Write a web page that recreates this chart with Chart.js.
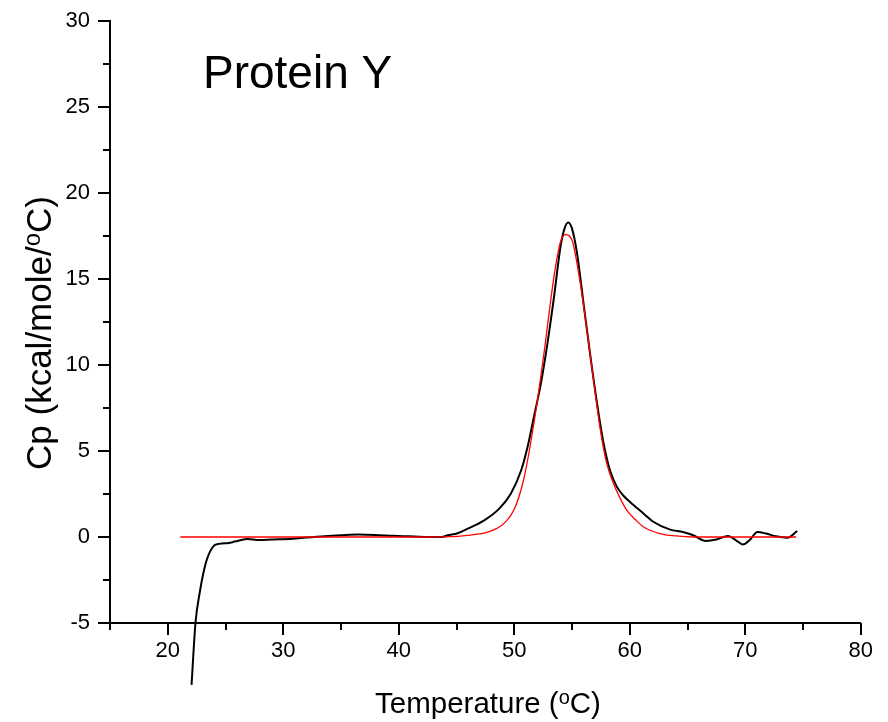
<!DOCTYPE html>
<html>
<head>
<meta charset="utf-8">
<script src="https://cdn.jsdelivr.net/npm/chart.js@4"></script>
<style>
  body { margin: 0; background: #fff; }
  canvas { display: block; }
</style>
</head>
<body>
<canvas id="dsc" width="888" height="722"></canvas>
<script>
// measured DSC trace (black)
const tempMeasured = [22.06, 22.4, 22.75, 23.3, 23.9, 24.45, 25.3, 25.6, 26.2, 26.9, 27.9, 29.0, 30.8, 32.0,
  33.6, 35.0, 36.5, 37.95, 39.5, 40.8, 42.5, 43.7, 44.26, 45.1, 45.98, 47.4, 48.7, 49.7, 50.6, 51.15,
  51.7, 52.3, 52.87, 53.44, 54.0, 54.35, 54.67, 55.0, 55.44, 56.0, 56.6, 57.17, 57.74, 58.3, 58.9,
  59.46, 60.0, 60.6, 61.3, 62.0, 63.5, 64.6, 65.5, 66.6, 67.5, 68.5, 69.2, 69.8, 70.36, 71.07, 71.8, 72.66, 73.66, 74.5]
const cpMeasured = [-8.6, -5.0, -3.3, -1.5, -0.58, -0.4, -0.35, -0.3, -0.2, -0.12, -0.18, -0.15, -0.1, -0.03,
  0.05, 0.1, 0.14, 0.12, 0.07, 0.04, 0.0, 0.0, 0.1, 0.22, 0.49, 0.97, 1.65, 2.52, 3.88, 5.23,
  6.98, 8.9, 11.24, 13.95, 16.86, 17.93, 18.28, 17.93, 16.48, 13.57, 10.47, 7.76, 5.43, 3.85, 2.9,
  2.4, 2.05, 1.7, 1.3, 0.9, 0.43, 0.29, 0.1, -0.23, -0.15, 0.06, -0.19, -0.44, -0.19, 0.29, 0.2, 0.04, -0.04, 0.35]

// fitted curve (red)
const tempFit = [21.08, 30, 40, 42.5, 44.5, 45.98, 47.0, 47.7, 48.5, 49.1, 49.96, 50.8, 51.7, 52.57, 53.43,
  54.0, 54.44, 55.0, 55.72, 56.6, 57.46, 58.0, 58.6, 59.2, 59.75, 60.5, 61.2, 62.6, 64.0, 65.5, 74.4]
const cpFit = [0, 0, 0, 0, 0.02, 0.1, 0.18, 0.29, 0.5, 0.78, 1.55, 3.3, 6.6, 10.66, 15.1,
  17.15, 17.58, 17.25, 14.73, 10.47, 6.2, 4.3, 3.1, 2.2, 1.55, 1.0, 0.58, 0.2, 0.06, 0, 0]

const xMajor = [20, 30, 40, 50, 60, 70, 80]
const yMajor = [-5, 0, 5, 10, 15, 20, 25, 30]

const chartTitle = 'Protein Y'
const FONT = "'Liberation Sans', Arial, sans-serif"

const toPoints = (xs, ys) => xs.map((x, i) => ({x: x, y: ys[i]}))

// text with a raised small "o" for the degree sign
function drawSupText(ctx, before, sup, after, size, supSize, rise) {
  ctx.font = size + 'px ' + FONT
  const w1 = ctx.measureText(before).width
  const w3 = ctx.measureText(after).width
  ctx.font = supSize + 'px ' + FONT
  const w2 = ctx.measureText(sup).width
  let x = -(w1 + w2 + w3) / 2
  ctx.font = size + 'px ' + FONT
  ctx.fillText(before, x, 0)
  x += w1
  ctx.font = supSize + 'px ' + FONT
  ctx.fillText(sup, x, -rise)
  x += w2
  ctx.font = size + 'px ' + FONT
  ctx.fillText(after, x, 0)
}

const axisDecor = {
  id: 'axisDecor',
  afterDraw(chart) {
    const ctx = chart.ctx
    const xs = chart.scales.x, ys = chart.scales.y
    const area = chart.chartArea
    ctx.save()
    ctx.strokeStyle = '#000'
    ctx.lineWidth = 2
    ctx.beginPath()
    xs.ticks.forEach(t => {
      const px = Math.round(xs.getPixelForValue(t.value))
      const len = xMajor.includes(t.value) ? 12 : 7
      ctx.moveTo(px, area.bottom)
      ctx.lineTo(px, area.bottom + len)
    })
    ys.ticks.forEach(t => {
      const py = Math.round(ys.getPixelForValue(t.value))
      const len = yMajor.includes(t.value) ? 12 : 7
      ctx.moveTo(area.left, py)
      ctx.lineTo(area.left - len, py)
    })
    ctx.stroke()

    ctx.fillStyle = '#000'
    ctx.textBaseline = 'alphabetic'
    ctx.textAlign = 'left'
    ctx.font = '46px ' + FONT
    ctx.fillText(chartTitle, 203, 88)

    ctx.save()
    ctx.translate(488, 713)
    drawSupText(ctx, 'Temperature (', 'o', 'C)', 29.5, 20, 9)
    ctx.restore()

    ctx.save()
    ctx.translate(51, 333)
    ctx.rotate(-Math.PI / 2)
    drawSupText(ctx, 'Cp (kcal/mole/', 'o', 'C)', 35, 24, 11)
    ctx.restore()
    ctx.restore()
  }
}

new Chart(document.getElementById('dsc'), {
  type: 'line',
  data: {
    datasets: [
      {
        data: toPoints(tempFit, cpFit),
        borderColor: '#ff0000',
        borderWidth: 1.3,
        pointRadius: 0,
        cubicInterpolationMode: 'monotone',
        fill: false
      },
      {
        data: toPoints(tempMeasured, cpMeasured),
        borderColor: '#000000',
        borderWidth: 2,
        pointRadius: 0,
        cubicInterpolationMode: 'monotone',
        fill: false,
        clip: false
      }
    ]
  },
  options: {
    responsive: false,
    animation: false,
    layout: { padding: { left: 0, right: 23, top: 21, bottom: 0 } },
    plugins: { legend: { display: false }, tooltip: { enabled: false } },
    scales: {
      x: {
        type: 'linear',
        min: 15,
        max: 80,
        grid: { display: false, drawTicks: false },
        border: { display: true, color: '#000', width: 2 },
        ticks: {
          stepSize: 5,
          autoSkip: false,
          maxRotation: 0,
          padding: 15,
          color: '#000',
          font: { family: FONT, size: 22 },
          callback: v => xMajor.includes(v) ? String(v) : ''
        },
        afterFit: s => { s.height = 99 }
      },
      y: {
        type: 'linear',
        min: -5,
        max: 30,
        grid: { display: false, drawTicks: false },
        border: { display: true, color: '#000', width: 2 },
        ticks: {
          stepSize: 2.5,
          autoSkip: false,
          padding: 20,
          color: '#000',
          font: { family: FONT, size: 22 },
          callback: v => yMajor.includes(v) ? String(v) : ''
        },
        afterFit: s => {
          s.width = 110
          s.paddingTop = 0
          s.paddingBottom = 0
        }
      }
    }
  },
  plugins: [axisDecor]
})
</script>
</body>
</html>
